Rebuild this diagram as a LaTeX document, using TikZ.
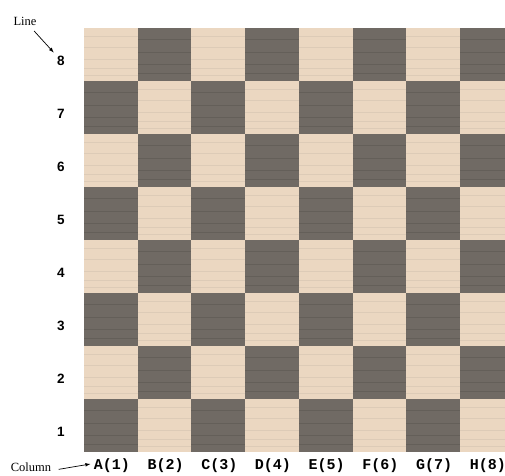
\documentclass[tikz,border=0pt]{standalone}
\usepackage{fontspec}
\setmainfont{Liberation Serif}
\newfontfamily\rowfont{Liberation Sans}
\newfontfamily\colfont{Liberation Mono}
\usetikzlibrary{arrows, positioning}
\definecolor{lightwood}{RGB}{235,215,193}
\definecolor{darkwood}{RGB}{112,106,100}

\begin{document}
\begin{tikzpicture}[
    x=1pt, y=-1pt,
    rowlabel/.style={font=\rowfont\bfseries\fontsize{13.5}{15}\selectfont},
    collabel/.style={font=\colfont\bfseries\fontsize{15}{17}\selectfont},
    sidelabel/.style={font=\fontsize{12.5}{14}\selectfont},
    grain/.style={line width=0.6pt, opacity=0.10},
    arrow/.style={->, >=latex, line width=0.7pt}
]
\useasboundingbox (0,0) rectangle (505,475);

% Board
\begin{scope}
\clip (84,28) rectangle (505,452);
\foreach \c in {0,...,7}
  \foreach \r in {0,...,7} {
    \pgfmathtruncatemacro{\parity}{mod(\c+\r,2)}
    \ifnum\parity=0
      \fill[lightwood] (84+53.7*\c,28+53*\r) rectangle (84+53.7*\c+53.7,28+53*\r+53);
      \foreach \g in {8,19,31,40,47}
        \draw[grain, black!60] (84+53.7*\c,28+53*\r+\g) -- (84+53.7*\c+53.7,28+53*\r+\g);
    \else
      \fill[darkwood] (84+53.7*\c,28+53*\r) rectangle (84+53.7*\c+53.7,28+53*\r+53);
      \foreach \g in {11,24,36,45}
        \draw[grain, black] (84+53.7*\c,28+53*\r+\g) -- (84+53.7*\c+53.7,28+53*\r+\g);
    \fi
  }
\end{scope}

% Line numbers
\foreach \r in {1,...,8}
  \node (row\r) [rowlabel] at (61,28+53*8.5-53*\r+6) {\r};

% Column letters
\foreach \l [count=\c] in {A,B,C,D,E,F,G,H}
  \node (col\l) [collabel] at (84+53.7*\c-26.85+1,466) {\l(\c)};

% Captions
\node (linelbl) [sidelabel] at (25,21) {Line};
\node (collbl) [sidelabel] at (31,467) {Column};

\draw [arrow, shorten <=3pt] (linelbl) -- (row8);
\draw [arrow, shorten <=4pt] ([yshift=-3pt]collbl.east) -- ([yshift=2pt]colA.west);

\end{tikzpicture}
\end{document}
